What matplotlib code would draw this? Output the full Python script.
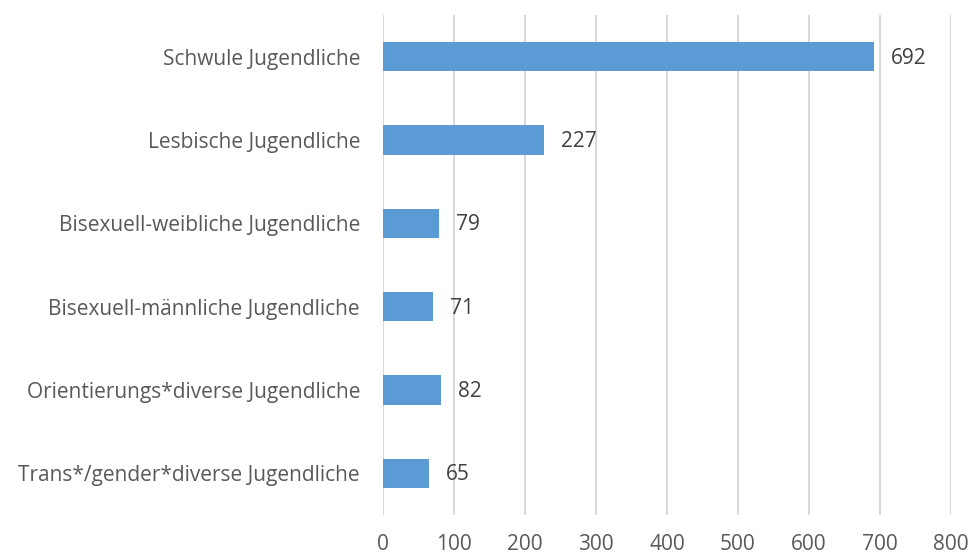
import matplotlib
matplotlib.use("Agg")
import matplotlib.pyplot as plt

categories = ["Schwule Jugendliche", "Lesbische Jugendliche", "Bisexuell-weibliche Jugendliche",
              "Bisexuell-männliche Jugendliche", "Orientierungs*diverse Jugendliche",
              "Trans*/gender*diverse Jugendliche"]
values = [692, 227, 79, 71, 82, 65]
xticks = [0, 100, 200, 300, 400, 500, 600, 700, 800]

plt.rcParams['font.family'] = ['Open Sans', 'DejaVu Sans']
text_color = '#595959'
fs = 15

fig = plt.figure(figsize=(9.78, 5.54), dpi=100)
W, H = 978, 554
ax = fig.add_axes([383 / W, 1 - 515 / H, (951 - 383) / W, (515 - 15) / H])

y = list(range(len(categories)))
ax.barh(y, values, height=0.35, color='#5B9BD5', zorder=3)
for yi, v in zip(y, values):
    ax.annotate(str(v), (v, yi), xytext=(12, -1), textcoords='offset points',
                va='center', ha='left', fontsize=fs, color='#404040')

ax.set_xlim(0, 800)
ax.set_ylim(len(categories) - 0.5, -0.5)
ax.set_yticks(y)
ax.set_yticklabels(categories, fontsize=fs, color=text_color)
ax.set_xticks(xticks)
ax.set_xticklabels([str(t) for t in xticks], fontsize=fs, color=text_color)
ax.tick_params(axis='both', length=0)
ax.tick_params(axis='x', pad=14)
ax.tick_params(axis='y', pad=16.5)
ax.grid(axis='x', color='#D9D9D9', linewidth=1.5, zorder=0)
for s in ax.spines.values():
    s.set_visible(False)

fig.savefig('out.png', dpi=100)
